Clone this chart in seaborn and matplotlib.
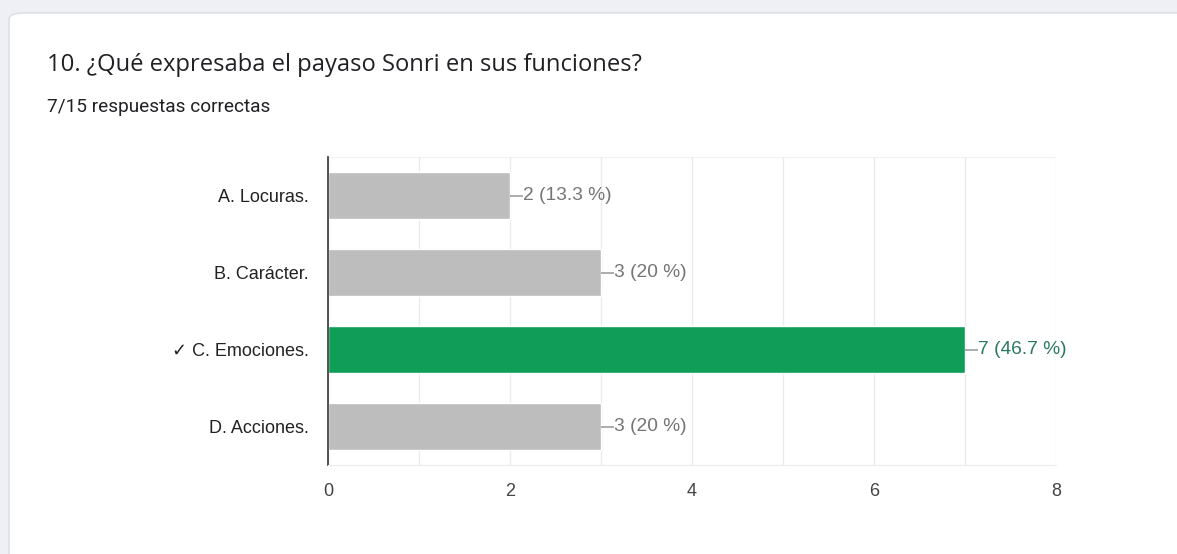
import seaborn as sns
import matplotlib.pyplot as plt
from matplotlib.patches import FancyBboxPatch
import pandas as pd

# datos
opciones = ['A. Locuras.', 'B. Carácter.', '\u2713 C. Emociones.', 'D. Acciones.']
respuestas = [2, 3, 7, 3]
porcentajes = ['13.3', '20', '46.7', '20']
correcta = [False, False, True, False]
total = 15

df = pd.DataFrame({'opcion': opciones, 'n': respuestas, 'ok': correcta})

sns.set_style('white')
plt.rcParams['font.family'] = ['Liberation Sans', 'DejaVu Sans']

fig = plt.figure(figsize=(11.77, 5.54), dpi=100)
fig.patch.set_facecolor('#eef0f5')

# tarjeta blanca
card = FancyBboxPatch((9 / 1177, -0.1), 1.2, (554 - 13) / 554 + 0.1,
                      boxstyle='round,pad=0,rounding_size=0.012',
                      transform=fig.transFigure, facecolor='white',
                      edgecolor='#dadce0', linewidth=1, zorder=-5)
fig.patches.append(card)

fig.text(47 / 1177, 1 - 65 / 554, '10. ¿Qué expresaba el payaso Sonri en sus funciones?',
         fontsize=17.1, color='#202124', va='center', ha='left', family='Open Sans')
fig.text(47 / 1177, 1 - 107 / 554, '7/15 respuestas correctas',
         fontsize=13.7, color='#202124', va='center', ha='left', family='Roboto')

ax = fig.add_axes([328 / 1177, 1 - 465 / 554, (1056 - 328) / 1177, (465 - 157) / 554])
ax.set_facecolor('none')

sns.barplot(data=df, x='n', y='opcion', hue='ok', orient='h',
            palette={False: '#bdbdbd', True: '#0f9d58'}, dodge=False,
            width=0.62, legend=False, ax=ax, saturation=1, zorder=2)

ax.set_xlim(0, 8)
ax.set_ylim(3.5, -0.5)
ax.set_xticks([0, 2, 4, 6, 8])
ax.set_xticks(range(9), minor=True)
ax.grid(True, axis='x', which='both', color='#ebebeb', linewidth=1, zorder=0)
ax.set_axisbelow(True)
ax.set_xlabel('')
ax.set_ylabel('')

for s in ['top', 'right']:
    ax.spines[s].set_visible(False)
ax.spines['bottom'].set_color('#ebebeb')
ax.spines['left'].set_color('#333333')
ax.spines['left'].set_linewidth(1.2)
ax.axhline(-0.5, color='#f2f2f2', linewidth=1, zorder=0)

ax.tick_params(axis='both', length=0, labelsize=13)
ax.tick_params(axis='x', pad=13, labelcolor='#444444')
ax.tick_params(axis='y', pad=14, labelcolor='#222222')

for i, (n, p, ok) in enumerate(zip(respuestas, porcentajes, correcta)):
    col = '#2a7a60' if ok else '#757575'
    ax.plot([n, n + 0.14], [i, i], color='#9e9e9e', linewidth=1.2, zorder=3,
            solid_capstyle='butt')
    ax.text(n + 0.14, i, f'{n} ({p} %)', va='center', ha='left',
            fontsize=13.8, color=col)

fig.savefig('out.png', dpi=100, facecolor=fig.get_facecolor())
